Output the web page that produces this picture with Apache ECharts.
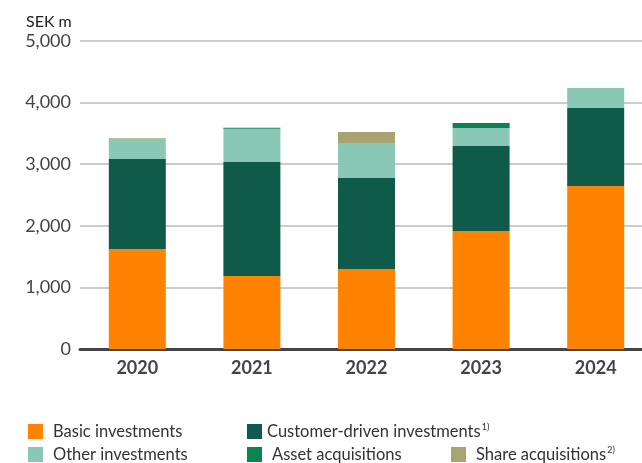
<!DOCTYPE html>
<html>
<head>
<meta charset="utf-8">
<script src="https://cdn.jsdelivr.net/npm/echarts@6/dist/echarts.min.js"></script>
<style>
html,body{margin:0;padding:0;background:#fff;overflow:hidden;width:642px;height:463px;}
#chart{width:653px;height:463px;}
</style>
</head>
<body>
<div id="chart"></div>
<script>
var categories = ['2020', '2021', '2022', '2023', '2024'];
var basicInvestments = [1625, 1185, 1300, 1915, 2645];
var customerDriven = [1460, 1850, 1476, 1380, 1266];
var otherInvestments = [331, 540, 568, 293, 325];
var assetAcquisitions = [0, 15, 0, 81, 0];
var shareAcquisitions = [10, 0, 179, 0, 0];
var yTicks = [0, 1000, 2000, 3000, 4000, 5000];

var FONT = 'Lato';
var colors = {
  basic: '#FF8300',
  customer: '#0F5A48',
  other: '#8AC8B6',
  asset: '#0B8455',
  share: '#A8A46F'
};

function mkSeries(name, data, color) {
  return {
    name: name, type: 'bar', stack: 'total', data: data, barWidth: 57,
    itemStyle: { color: color }, emphasis: { disabled: true }
  };
}

function mkLegend(name, left, top, gap) {
  return {
    data: [name], left: left, top: top, icon: 'rect',
    itemWidth: 15, itemHeight: 15, itemGap: 0, padding: 0, selectedMode: false,
    formatter: function (n) {
      if (n === 'Customer-driven investments') return '{t|' + n + '}{s|1)}';
      if (n === 'Share acquisitions') return '{t|' + n + '}{s|2)}';
      return '{t|' + n + '}';
    },
    textStyle: {
      padding: [0, 0, 0, gap],
      rich: {
        t: { fontFamily: FONT, fontSize: 16.5, color: '#333' },
        s: { fontFamily: FONT, fontSize: 9, color: '#333', verticalAlign: 'top', padding: [0, 0, 8, 1] }
      }
    }
  };
}

var chart = echarts.init(document.getElementById('chart'));
chart.setOption({
  animation: false,
  title: {
    text: 'SEK m', left: 26, top: 14, padding: 0,
    textStyle: { fontFamily: FONT, fontSize: 16, fontWeight: 'normal', color: '#222' }
  },
  grid: { left: 80, right: 0, top: 41, bottom: 114, containLabel: false },
  legend: [
    mkLegend('Basic investments', 28, 423, 5),
    mkLegend('Customer-driven investments', 247, 423, 0),
    mkLegend('Other investments', 28, 446, 5),
    mkLegend('Asset acquisitions', 247, 446, 5),
    mkLegend('Share acquisitions', 451, 446, 5)
  ],
  xAxis: {
    type: 'category', data: categories,
    axisLine: { show: true, lineStyle: { color: '#444', width: 3 } },
    axisTick: { show: false },
    axisLabel: { fontFamily: FONT, fontSize: 18, fontWeight: 'bold', color: '#444', margin: 10 }
  },
  yAxis: {
    type: 'value', min: yTicks[0], max: yTicks[yTicks.length - 1], interval: 1000,
    axisLine: { show: false }, axisTick: { show: false },
    splitLine: { lineStyle: { color: '#bbb', width: 1.5 } },
    axisLabel: {
      fontFamily: FONT, fontSize: 18, color: '#444', margin: 9,
      formatter: function (v) { return v.toLocaleString('en-US'); }
    }
  },
  series: [
    mkSeries('Basic investments', basicInvestments, colors.basic),
    mkSeries('Customer-driven investments', customerDriven, colors.customer),
    mkSeries('Other investments', otherInvestments, colors.other),
    mkSeries('Asset acquisitions', assetAcquisitions, colors.asset),
    mkSeries('Share acquisitions', shareAcquisitions, colors.share)
  ]
});
</script>
</body>
</html>
